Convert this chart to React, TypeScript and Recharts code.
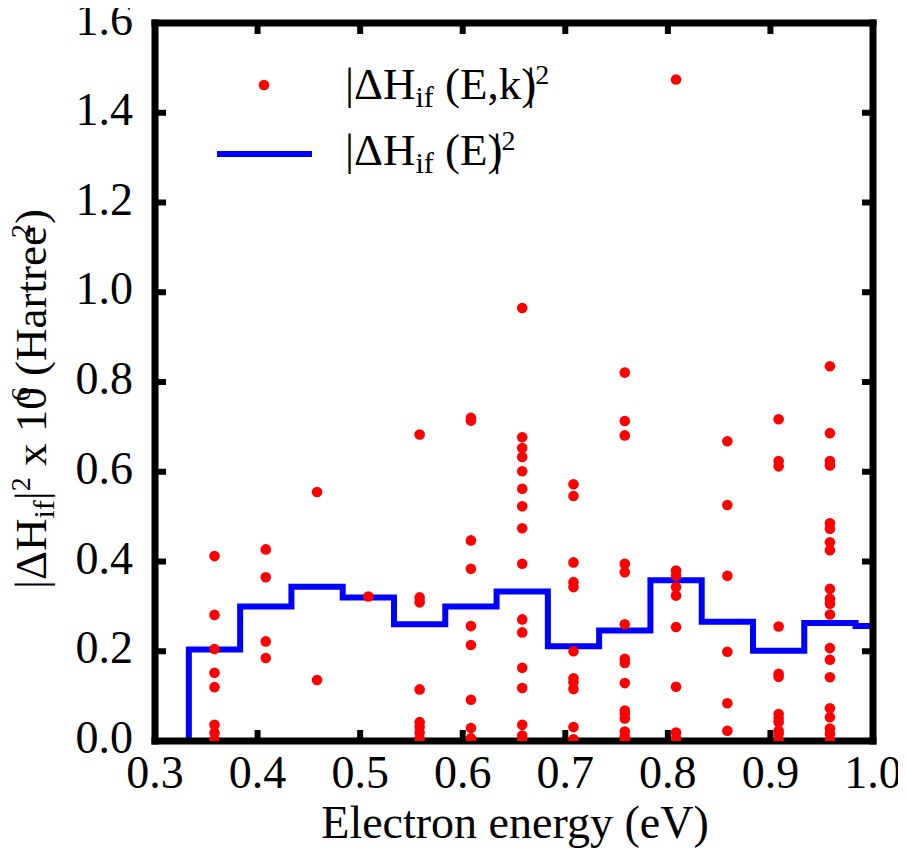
import React from 'react';
import { ComposedChart, XAxis, YAxis, Line, Scatter, Legend } from 'recharts';

const FONT = '"Liberation Serif", "Times New Roman", serif';

// x axis ticks / y axis ticks
const xTicks = [0.3, 0.4, 0.5, 0.6, 0.7, 0.8, 0.9, 1.0];
const yTicks = [0.0, 0.2, 0.4, 0.6, 0.8, 1.0, 1.2, 1.4, 1.6];

// |ΔH_if(E)|^2 step histogram (value holds from each edge to the next)
const stepEdges = [0.3, 0.333, 0.383, 0.433, 0.483, 0.533, 0.583, 0.633, 0.683, 0.733, 0.783, 0.833, 0.883, 0.933, 0.983, 1.0];
const stepValues = [0.0, 0.204, 0.300, 0.344, 0.320, 0.260, 0.300, 0.333, 0.211, 0.246, 0.358, 0.266, 0.201, 0.263, 0.256, 0.256];

// |ΔH_if(E,k)|^2 points, one column per electron energy
const dotEnergies = [0.358, 0.408, 0.458, 0.508, 0.558, 0.608, 0.658, 0.708, 0.758, 0.808, 0.858, 0.908, 0.958];
const dotValues = [
  [0.412, 0.281, 0.205, 0.152, 0.120, 0.036, 0.018, 0.003],
  [0.427, 0.365, 0.222, 0.185],
  [0.555, 0.136],
  [0.322],
  [0.683, 0.320, 0.309, 0.115, 0.042, 0.031, 0.019, 0.005],
  [0.720, 0.714, 0.447, 0.384, 0.256, 0.214, 0.092, 0.029, 0.006],
  [0.965, 0.677, 0.653, 0.633, 0.601, 0.562, 0.523, 0.474, 0.395, 0.271, 0.242, 0.163, 0.118, 0.036, 0.012, 0.002],
  [0.572, 0.546, 0.398, 0.354, 0.343, 0.200, 0.140, 0.131, 0.116, 0.031, 0.004],
  [0.821, 0.713, 0.681, 0.395, 0.376, 0.260, 0.183, 0.174, 0.129, 0.068, 0.060, 0.050, 0.021, 0.010, 0.001],
  [1.474, 0.380, 0.368, 0.343, 0.324, 0.254, 0.121, 0.019, 0.006],
  [0.668, 0.526, 0.368, 0.199, 0.084, 0.023],
  [0.717, 0.624, 0.612, 0.255, 0.150, 0.143, 0.060, 0.050, 0.042, 0.023, 0.016, 0.002],
  [0.835, 0.686, 0.624, 0.614, 0.485, 0.473, 0.443, 0.425, 0.339, 0.317, 0.306, 0.282, 0.207, 0.181, 0.142, 0.073, 0.053, 0.028, 0.016, 0.002],
];

const stepData = stepEdges.map((e, i) => ({ e, v: stepValues[i] }));
const dotData = dotEnergies.flatMap((e, i) => dotValues[i].map((v) => ({ e, v })));

const W = 890;
const H = 840;

const XTick = (props: any) => {
  const { x, y, payload } = props;
  return (
    <text x={x} y={y + 47} textAnchor="middle" fontFamily={FONT} fontSize={46} fill="#000">
      {Number(payload.value).toFixed(1)}
    </text>
  );
};

const YTick = (props: any) => {
  const { x, y, payload } = props;
  return (
    <text x={x - 22} y={y + 12} textAnchor="end" fontFamily={FONT} fontSize={46} fill="#000">
      {Number(payload.value).toFixed(1)}
    </text>
  );
};

const XLabel = (props: any) => {
  const vb = props.viewBox || { x: 0, y: 0, width: 0, height: 0 };
  return (
    <text x={vb.x + vb.width / 2 + 1} y={vb.y + 97} textAnchor="middle" fontFamily={FONT} fontSize={46} fill="#000">
      Electron energy (eV)
    </text>
  );
};

const YLabel = (props: any) => {
  const vb = props.viewBox || { x: 0, y: 0, width: 0, height: 0 };
  const cx = vb.x + 38;
  const cy = vb.y + vb.height / 2 + 17;
  return (
    <text
      x={cx}
      y={cy}
      transform={`rotate(-90 ${cx} ${cy})`}
      textAnchor="middle"
      fontFamily={FONT}
      fontSize={45}
      fill="#000"
      style={{ whiteSpace: 'pre' }}
    >
      |ΔH
      <tspan fontSize={30} dy={8}>if</tspan>
      <tspan dy={-8}>|</tspan>
      <tspan fontSize={28} dy={-16}>2</tspan>
      <tspan dy={16}> x 10</tspan>
      <tspan fontSize={28} dx={-14} dy={-16}>6</tspan>
      <tspan dy={16}> (Hartree</tspan>
      <tspan fontSize={28} dx={-12} dy={-16}>2</tspan>
      <tspan dy={16}>)</tspan>
    </text>
  );
};

const LegendContent = () => (
  <svg width={W} height={200} style={{ display: 'block' }}>
    <circle cx={256} cy={77} r={5.3} fill="#ff0000" />
    <line x1={209} y1={146} x2={304} y2={146} stroke="#0000ff" strokeWidth={6} />
    <text x={337} y={90.5} fontFamily={FONT} fontSize={45} fill="#000" style={{ whiteSpace: 'pre' }}>
      |ΔH
      <tspan fontSize={30} dy={8}>if</tspan>
      <tspan dy={-8}> (E,k)</tspan>
      <tspan dx={-10}>|</tspan>
      <tspan fontSize={28} dy={-15}>2</tspan>
    </text>
    <text x={337} y={157} fontFamily={FONT} fontSize={45} fill="#000" style={{ whiteSpace: 'pre' }}>
      |ΔH
      <tspan fontSize={30} dy={8}>if</tspan>
      <tspan dy={-8}> (E)</tspan>
      <tspan dx={-10}>|</tspan>
      <tspan fontSize={28} dy={-15}>2</tspan>
    </text>
  </svg>
);

const Dot = (props: any) => <circle cx={props.cx} cy={props.cy} r={5.3} fill="#ff0000" />;

const axisLineStyle = { stroke: '#000', strokeWidth: 7, strokeLinecap: 'square' as const };
const tickLineStyle = { stroke: '#000', strokeWidth: 6 };

export default function App() {
  return (
    <div style={{ width: W, height: H, background: '#fff' }}>
      <ComposedChart width={W} height={H} margin={{ top: 0, right: 0, bottom: 0, left: 0 }}>
        <XAxis
          xAxisId="b"
          dataKey="e"
          type="number"
          domain={[0.3, 1.0]}
          ticks={xTicks}
          allowDataOverflow
          orientation="bottom"
          height={107}
          axisLine={axisLineStyle}
          tickLine={tickLineStyle}
          tickSize={-11}
          tickMargin={11}
          tick={XTick}
          interval={0}
          label={XLabel}
        />
        <XAxis
          xAxisId="t"
          dataKey="e"
          type="number"
          domain={[0.3, 1.0]}
          ticks={xTicks}
          allowDataOverflow
          orientation="top"
          height={15}
          axisLine={axisLineStyle}
          tickLine={tickLineStyle}
          tickSize={-11}
          tickFormatter={() => ''}
          interval={0}
        />
        <YAxis
          yAxisId="l"
          dataKey="v"
          type="number"
          domain={[0, 1.6]}
          ticks={yTicks}
          allowDataOverflow
          orientation="left"
          width={147}
          axisLine={axisLineStyle}
          tickLine={tickLineStyle}
          tickSize={-11}
          tickMargin={11}
          tick={YTick}
          interval={0}
          label={YLabel}
        />
        <YAxis
          yAxisId="r"
          dataKey="v"
          type="number"
          domain={[0, 1.6]}
          ticks={yTicks}
          allowDataOverflow
          orientation="right"
          width={25}
          axisLine={axisLineStyle}
          tickLine={tickLineStyle}
          tickSize={-11}
          tickFormatter={() => ''}
          interval={0}
        />
        <Scatter
          xAxisId="b"
          yAxisId="l"
          data={dotData}
          dataKey="v"
          shape={Dot}
          isAnimationActive={false}
          name="points"
        />
        <Line
          xAxisId="b"
          yAxisId="l"
          data={stepData}
          dataKey="v"
          type="stepAfter"
          stroke="#0000ff"
          strokeWidth={6}
          dot={false}
          activeDot={false}
          isAnimationActive={false}
          name="step"
        />
        <Legend
          layout="vertical"
          align="center"
          verticalAlign="middle"
          wrapperStyle={{ position: 'absolute', top: 0, left: 0, width: W, height: 200, pointerEvents: 'none' }}
          content={LegendContent}
        />
      </ComposedChart>
    </div>
  );
}
